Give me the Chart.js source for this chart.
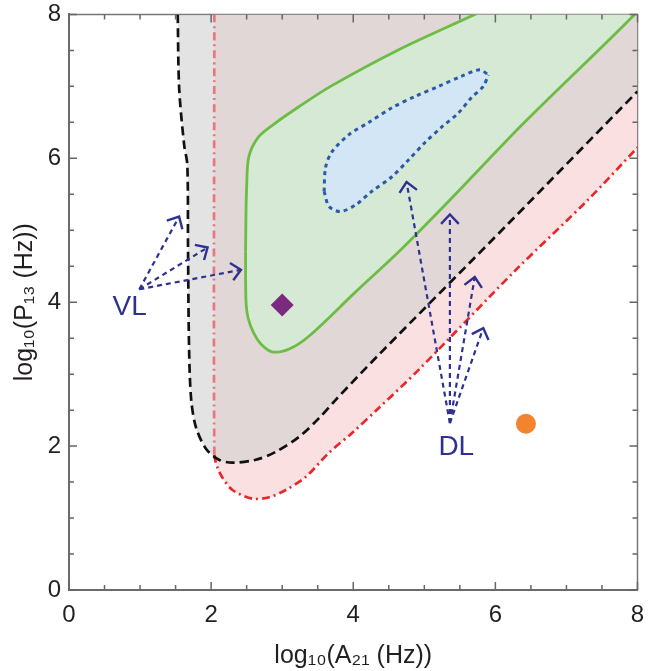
<!DOCTYPE html>
<html><head><meta charset="utf-8">
<script src="https://cdn.jsdelivr.net/npm/chart.js@4"></script>
<style>html,body{margin:0;padding:0;background:#fff}#wrap{width:649px;height:671px}</style>
</head><body><div id="wrap"><canvas id="c" width="649" height="671"></canvas></div>
<script>
// ---- data (log10 units) ----
const xTickValues = [0, 2, 4, 6, 8];
const yTickValues = [0, 2, 4, 6, 8];
const xTitle = 'log\u2081\u2080(A\u2082\u2081 (Hz))';
const yTitle = 'log\u2081\u2080(P\u2081\u2083 (Hz))';

// red dash-dot boundary (region above it)
const redCurve = [[2.045,8.0],[2.045,1.88],[2.09,1.70],[2.16,1.56],[2.30,1.39],[2.58,1.27],[2.82,1.29],[3.05,1.39],[3.33,1.57],[3.66,1.91],[3.98,2.18],[4.36,2.53],[4.92,3.06],[6.29,4.45],[7.30,5.42],[8.0,6.15]];
// black dashed boundary (region above it)
const blackCurve = [[1.53,8.0],[1.55,6.98],[1.62,6.19],[1.665,5.91],[1.675,4.73],[1.69,3.34],[1.72,2.64],[1.79,2.25],[1.93,1.96],[2.11,1.81],[2.30,1.77],[2.63,1.81],[2.91,1.92],[3.24,2.13],[3.52,2.39],[3.75,2.64],[4.36,3.27],[6.18,5.09],[8.0,6.93]];
// green solid contour (upper and lower branches; upper continues above the frame)
const greenUpper = [[2.485,4.7],[2.49,5.2],[2.50,5.6],[2.53,6.02],[2.67,6.30],[2.89,6.48],[3.24,6.72],[3.68,7.0],[4.64,7.51],[5.71,8.0],[7.0,8.6],[8.5,8.6]];
const greenLower = [[2.485,4.7],[2.49,4.03],[2.52,3.78],[2.60,3.57],[2.70,3.42],[2.86,3.31],[3.10,3.35],[3.38,3.53],[4.03,4.14],[4.64,4.70],[5.36,5.42],[6.41,6.50],[7.96,8.0],[8.3,8.4]];
// blue dotted contour (upper and lower branches)
const blueUpper = [[3.59,5.54],[3.61,5.87],[3.70,6.09],[3.94,6.33],[4.22,6.50],[4.54,6.70],[4.87,6.86],[5.20,7.00],[5.52,7.14],[5.78,7.23],[5.90,7.16]];
const blueLower = [[3.59,5.54],[3.66,5.33],[3.82,5.26],[4.03,5.35],[4.26,5.54],[4.54,5.74],[4.78,5.98],[5.01,6.22],[5.24,6.43],[5.48,6.63],[5.66,6.84],[5.83,7.00],[5.90,7.16]];
// markers
const diamondPoint = [[3.0,3.96]];
const circlePoint = [[6.43,2.31]];
// annotation arrows
const vlTail = [0.99,4.18];
const vlHeads = [[1.55,5.19],[1.95,4.76],[2.42,4.45]];
const dlTail = [5.36,2.32];
const dlHeads = [[4.75,5.67],[5.36,5.22],[5.71,4.35],[5.83,3.64]];
const labels = [{text:'VL', at:[0.854,3.93]},{text:'DL', at:[5.45,1.98]}];

// ---- build ----
const toXY = a => a.map(([x,y]) => ({x, y}));
const FONT = "'Liberation Sans', Arial, 'DejaVu Sans', sans-serif";
const NAVY = '#2e3192';
const datasets = [];
function add(ds){ datasets.push(ds); return datasets.length - 1; }
const lineBase = {pointRadius:0, pointHoverRadius:0, tension:0.3, fill:false};

add({data:toXY(diamondPoint), showLine:false, pointStyle:'rectRot', pointRadius:11.5, backgroundColor:'#7a2a7f', borderColor:'#7a2a7f', borderWidth:0, order:0});
add({data:toXY(circlePoint), showLine:false, pointStyle:'circle', pointRadius:10, backgroundColor:'#f3842f', borderColor:'#f3842f', borderWidth:0, order:0});

const arrows = [];
vlHeads.forEach(h => arrows.push([vlTail, h]));
dlHeads.forEach(h => arrows.push([dlTail, h]));
arrows.forEach(([t,h]) => add({...lineBase, tension:0, data:toXY([t,h]), borderColor:NAVY, borderWidth:2.2, borderDash:[5,4], order:1}));

const blueUp = add({...lineBase, data:toXY(blueUpper), borderColor:'#2a5aa8', borderWidth:3, borderDash:[4,4], order:2});
add({...lineBase, data:toXY(blueLower), borderColor:'#2a5aa8', borderWidth:3, borderDash:[4,4], fill:blueUp, backgroundColor:'#d3e6f6', order:3});

const greenUp = add({...lineBase, data:toXY(greenUpper), borderColor:'#6cbd45', borderWidth:2.8, order:4});
add({...lineBase, data:toXY(greenLower), borderColor:'#6cbd45', borderWidth:2.8, fill:greenUp, backgroundColor:'#d6e9d4', order:5});

add({...lineBase, data:toXY(blackCurve), borderColor:'#111', borderWidth:2.7, borderDash:[9,5], fill:'end', backgroundColor:'rgba(209,209,209,0.61)', order:6});
add({...lineBase, data:toXY(redCurve), borderColor:'#e8282c', borderWidth:2.7, borderDash:[8,4,2,4], fill:'end', backgroundColor:'#fae0e0', order:7,
  segment:{borderColor: c => c.p0DataIndex === 0 ? '#e8767b' : '#e8282c'}});

const overlay = {
  id:'overlay',
  beforeDraw(chart){
    const {ctx, chartArea:a} = chart;
    ctx.save(); ctx.strokeStyle = '#777'; ctx.lineWidth = 1.5;
    ctx.beginPath(); ctx.moveTo(a.left, a.top); ctx.lineTo(a.right, a.top); ctx.lineTo(a.right, a.bottom); ctx.stroke();
    ctx.restore();
  },
  afterDatasetsDraw(chart){
    const {ctx, chartArea:a, scales:{x, y}} = chart;
    ctx.save();
    // inward tick marks on all four sides
    ctx.strokeStyle = '#666'; ctx.lineWidth = 1.5;
    for (let v = 0; v <= 8.001; v += 0.5) {
      const len = (Math.abs(v % 2) < 1e-6) ? 8 : 5;
      const px = x.getPixelForValue(v), py = y.getPixelForValue(v);
      ctx.beginPath();
      ctx.moveTo(px, a.bottom); ctx.lineTo(px, a.bottom - len);
      ctx.moveTo(px, a.top); ctx.lineTo(px, a.top + len);
      ctx.moveTo(a.left, py); ctx.lineTo(a.left + len, py);
      ctx.moveTo(a.right, py); ctx.lineTo(a.right - len, py);
      ctx.stroke();
    }
    // arrow heads
    ctx.strokeStyle = NAVY; ctx.lineWidth = 2.4; ctx.setLineDash([]);
    arrows.forEach(([t,h]) => {
      const tx = x.getPixelForValue(t[0]), ty = y.getPixelForValue(t[1]);
      const hx = x.getPixelForValue(h[0]), hy = y.getPixelForValue(h[1]);
      const ang = Math.atan2(hy - ty, hx - tx);
      const L = 13, s = 0.75;
      ctx.beginPath();
      ctx.moveTo(hx - L*Math.cos(ang - s), hy - L*Math.sin(ang - s));
      ctx.lineTo(hx, hy);
      ctx.lineTo(hx - L*Math.cos(ang + s), hy - L*Math.sin(ang + s));
      ctx.stroke();
    });
    // text labels
    ctx.fillStyle = NAVY; ctx.font = '28px ' + FONT; ctx.textAlign = 'center'; ctx.textBaseline = 'middle';
    labels.forEach(l => ctx.fillText(l.text, x.getPixelForValue(l.at[0]), y.getPixelForValue(l.at[1])));
    ctx.restore();
  }
};

new Chart(document.getElementById('c'), {
  type:'line',
  data:{datasets},
  plugins:[overlay],
  options:{
    responsive:false, animation:false, devicePixelRatio:1, events:[],
    layout:{padding:{top:8, right:0, bottom:0, left:0}},
    plugins:{legend:{display:false}, tooltip:{enabled:false}, filler:{propagate:false, drawTime:'beforeDatasetsDraw'}},
    scales:{
      x:{type:'linear', min:0, max:8,
        afterFit: s => { s.height = 81; },
        afterBuildTicks: s => { s.ticks = xTickValues.map(v => ({value:v})); },
        grid:{display:false}, border:{display:true, color:'#6b6b6b', width:2},
        ticks:{color:'#231f20', padding:3, font:{family:FONT, size:24}, maxRotation:0, autoSkip:false},
        title:{display:true, text:xTitle, color:'#231f20', font:{family:FONT, size:25}, padding:{top:0, bottom:0}}
      },
      y:{type:'linear', min:0, max:8,
        afterFit: s => { s.width = 69; },
        afterBuildTicks: s => { s.ticks = yTickValues.map(v => ({value:v})); },
        grid:{display:false}, border:{display:true, color:'#6b6b6b', width:2},
        ticks:{color:'#231f20', padding:0, font:{family:FONT, size:24}, autoSkip:false},
        title:{display:true, text:yTitle, color:'#231f20', font:{family:FONT, size:25}, padding:{top:10, bottom:0}}
      }
    }
  }
});
</script>
</body></html>
